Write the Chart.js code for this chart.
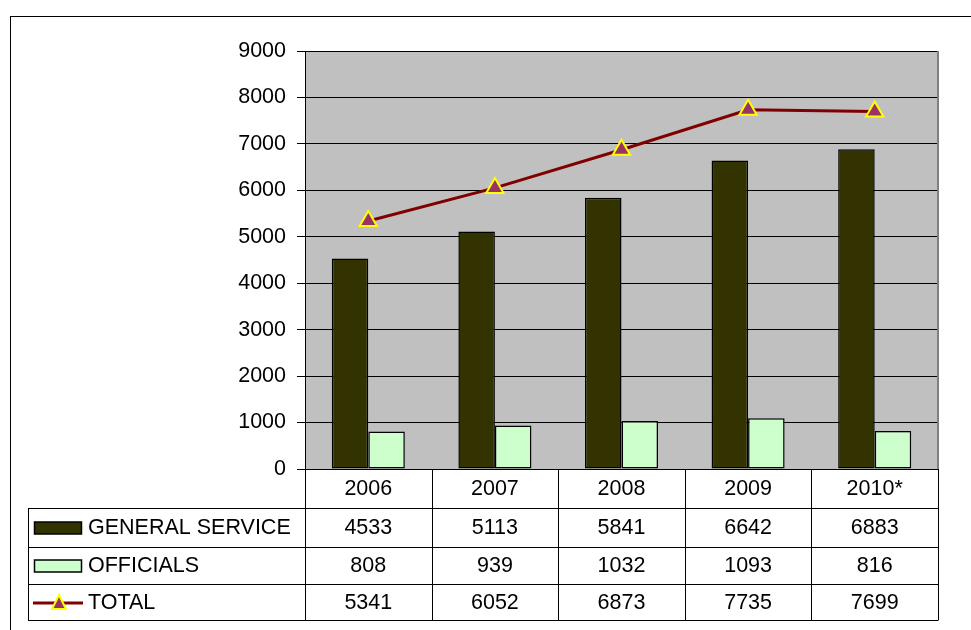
<!DOCTYPE html>
<html>
<head>
<meta charset="utf-8">
<script src="https://cdn.jsdelivr.net/npm/chart.js@4/dist/chart.umd.min.js"></script>
<style>
html,body{margin:0;padding:0;background:#fff;}
#wrap{position:relative;width:971px;height:630px;}
</style>
</head>
<body>
<div id="wrap"><canvas id="c" width="971" height="630"></canvas></div>
<script>
const categories = ['2006', '2007', '2008', '2009', '2010*'];
const generalService = [4533, 5113, 5841, 6642, 6883];
const officials = [808, 939, 1032, 1093, 816];
const total = [5341, 6052, 6873, 7735, 7699];
const seriesNames = ['GENERAL SERVICE', 'OFFICIALS', 'TOTAL'];
const yTicks = [0, 1000, 2000, 3000, 4000, 5000, 6000, 7000, 8000, 9000];

const FONT = '"Liberation Sans", Arial, sans-serif';
const FSIZE = 21.5;

const plotBg = {
  id: 'plotBg',
  beforeDraw(chart) {
    const {ctx, chartArea: a} = chart;
    ctx.save();
    ctx.strokeStyle = '#000';
    ctx.lineWidth = 1;
    ctx.strokeRect(10.5, 16.5, 1000, 700);
    ctx.fillStyle = '#C0C0C0';
    ctx.fillRect(a.left, a.top, a.right - a.left, a.bottom - a.top);
    ctx.restore();
  },
  afterDraw(chart) {
    const {ctx, chartArea: a} = chart;
    ctx.save();
    ctx.strokeStyle = '#808080';
    ctx.lineWidth = 2;
    ctx.beginPath();
    ctx.moveTo(a.right, a.top);
    ctx.lineTo(a.right, a.bottom);
    ctx.stroke();

    const n = categories.length;
    const colW = (a.right - a.left) / n;
    const tableLeft = 28;
    const rowY = [a.bottom, 508, 547, 584, 620];
    ctx.strokeStyle = '#000';
    ctx.lineWidth = 1;
    ctx.beginPath();
    ctx.moveTo(a.left, a.bottom + 0.5); ctx.lineTo(a.right, a.bottom + 0.5);
    for (let r = 1; r < rowY.length; r++) {
      ctx.moveTo(tableLeft, rowY[r] + 0.5); ctx.lineTo(a.right, rowY[r] + 0.5);
    }
    for (let i = 0; i <= n; i++) {
      const x = Math.round(a.left + colW * i) + 0.5;
      ctx.moveTo(x, a.bottom); ctx.lineTo(x, rowY[4] + 0.5);
    }
    ctx.moveTo(tableLeft + 0.5, rowY[1]); ctx.lineTo(tableLeft + 0.5, rowY[4] + 0.5);
    ctx.stroke();

    ctx.fillStyle = '#000';
    ctx.font = FSIZE + 'px ' + FONT;
    ctx.textAlign = 'center';
    ctx.textBaseline = 'middle';
    const rows = [generalService, officials, total];
    for (let i = 0; i < n; i++) {
      const cx = chart.scales.x.getPixelForValue(i);
      ctx.fillText(categories[i], cx, (rowY[0] + rowY[1]) / 2 + 1);
      for (let r = 0; r < 3; r++) {
        ctx.fillText(String(rows[r][i]), cx, (rowY[r + 1] + rowY[r + 2]) / 2 + 1);
      }
    }
    ctx.textAlign = 'left';
    const ds = chart.data.datasets;
    for (let r = 0; r < 3; r++) {
      const cy = (rowY[r + 1] + rowY[r + 2]) / 2;
      ctx.fillStyle = '#000';
      ctx.font = FSIZE + 'px ' + FONT;
      ctx.fillText(seriesNames[r], 88, cy + 1);
      if (r < 2) {
        ctx.fillStyle = ds[r].backgroundColor;
        ctx.fillRect(34.5, cy - 5.5, 47, 12);
        ctx.strokeStyle = '#000';
        ctx.lineWidth = 1.5;
        ctx.strokeRect(34.5, cy - 5.5, 47, 12);
      } else {
        ctx.strokeStyle = ds[2].borderColor;
        ctx.lineWidth = 3;
        ctx.beginPath();
        ctx.moveTo(33, cy + 1); ctx.lineTo(83, cy + 1);
        ctx.stroke();
        ctx.beginPath();
        ctx.moveTo(59, cy - 7); ctx.lineTo(66, cy + 7); ctx.lineTo(52, cy + 7); ctx.closePath();
        ctx.fillStyle = ds[2].pointBackgroundColor;
        ctx.fill();
        ctx.strokeStyle = ds[2].pointBorderColor;
        ctx.lineWidth = 2;
        ctx.stroke();
      }
    }
    ctx.restore();
  }
};

new Chart(document.getElementById('c'), {
  type: 'bar',
  data: {
    labels: categories,
    datasets: [
      {
        label: seriesNames[0], data: generalService, order: 1,
        backgroundColor: '#333300', borderColor: '#000', borderWidth: 1.5, borderSkipped: false
      },
      {
        label: seriesNames[1], data: officials, order: 1,
        backgroundColor: '#CCFFCC', borderColor: '#000', borderWidth: 1.5, borderSkipped: false
      },
      {
        type: 'line', label: seriesNames[2], data: total, order: 0,
        borderColor: '#800000', borderWidth: 3,
        pointStyle: 'triangle', pointRadius: 10,
        pointBackgroundColor: '#993366', pointBorderColor: '#FFFF00', pointBorderWidth: 2,
        tension: 0, fill: false
      }
    ]
  },
  options: {
    responsive: false,
    animation: false,
    events: [],
    layout: { padding: { left: 0, top: 51, right: 33, bottom: 161 } },
    datasets: { bar: { categoryPercentage: 0.577, barPercentage: 1 } },
    plugins: { legend: { display: false }, tooltip: { enabled: false }, title: { display: false } },
    scales: {
      x: { display: false, offset: true },
      y: {
        min: 0, max: 9000,
        afterBuildTicks(scale) { scale.ticks = yTicks.map(v => ({ value: v })); },
        afterFit(scale) { scale.width = 305; },
        grid: { color: '#000', lineWidth: 1, tickLength: 8, drawTicks: true },
        border: { color: '#000', width: 1 },
        ticks: {
          color: '#000', padding: 11, font: { family: FONT, size: FSIZE },
          callback: (v) => String(v)
        }
      }
    }
  },
  plugins: [plotBg]
});
</script>
</body>
</html>
